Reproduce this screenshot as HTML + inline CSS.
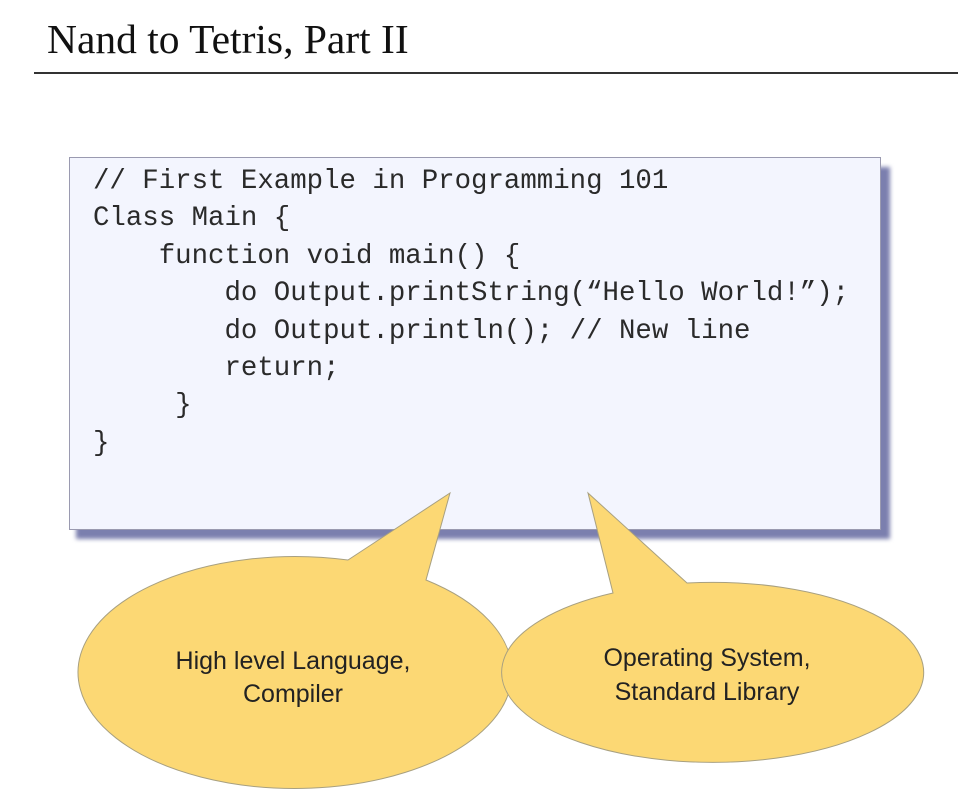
<!DOCTYPE html>
<html><head><meta charset="utf-8"><style>
html,body{margin:0;padding:0;background:#fff;width:968px;height:804px;overflow:hidden;position:relative}
.title{position:absolute;left:47px;top:19px;font-family:"Liberation Serif",serif;font-size:41.5px;color:#111;line-height:1}
.rule{position:absolute;left:34px;top:72px;width:924px;height:2px;background:#333}
.shadow{position:absolute;left:76px;top:167px;width:814px;height:372px;background:#7b7fae;filter:blur(2px)}
.box{position:absolute;left:69px;top:157px;width:812px;height:373px;background:#f3f5fe;border:1px solid #9a9ab0;box-sizing:border-box}
pre{position:absolute;left:93px;top:163px;margin:0;font-family:"Liberation Mono",monospace;font-size:27.4px;line-height:37.4px;color:#2a2a2a}
svg{position:absolute;left:0;top:0}
</style></head><body>
<div class="title">Nand to Tetris, Part II</div>
<div class="rule"></div>
<div class="shadow"></div>
<div class="box"></div>
<pre>// First Example in Programming 101
Class Main {
    function void main() {
        do Output.printString(“Hello World!”);
        do Output.println(); // New line
        return;
     }
}</pre>
<svg width="968" height="804">
<g fill="#fcd874" stroke="#a8a080" stroke-width="1">
<path d="M348,560 L450,493 L426,580 A217,116 0 1 1 348,560 Z"/>
<path d="M613,593 L588,493 L687,583 A211,90 0 1 1 613,593 Z"/>
</g>
<g font-family="Liberation Sans, sans-serif" font-size="25" fill="#222" text-anchor="middle">
<text x="293" y="669">High level Language,</text>
<text x="293" y="702">Compiler</text>
<text x="707" y="666">Operating System,</text>
<text x="707" y="700">Standard Library</text>
</g>
</svg>
</body></html>
